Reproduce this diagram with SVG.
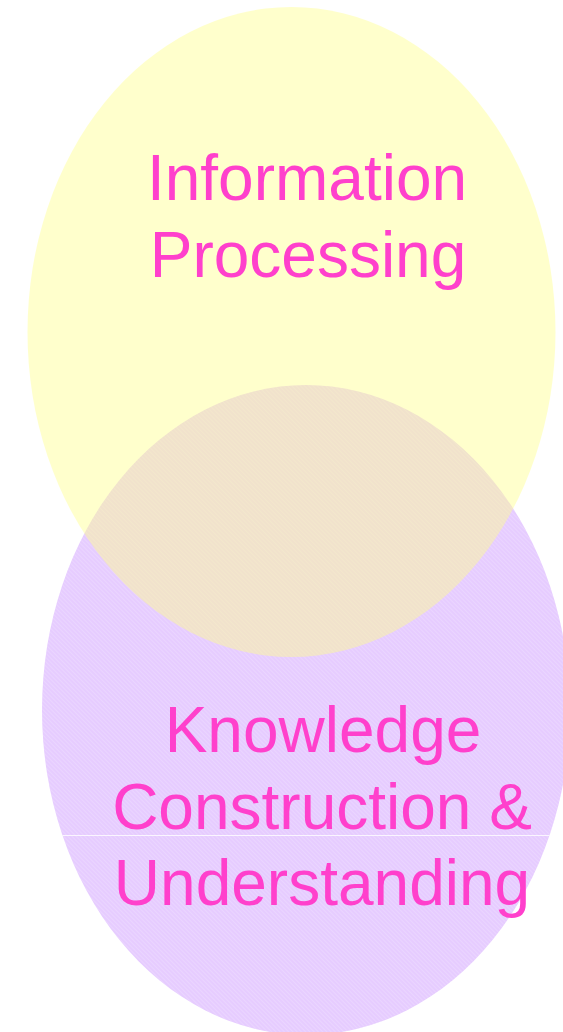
<svg xmlns="http://www.w3.org/2000/svg" width="563" height="1032" viewBox="0 0 563 1032">
  <defs>
    <!-- fine diagonal grain on the lower circle -->
    <pattern id="grain" width="3" height="3" patternUnits="userSpaceOnUse" patternTransform="rotate(45)">
      <rect width="3" height="1" fill="#ffffff" opacity="0.18"/>
    </pattern>
    <clipPath id="lowerClip">
      <ellipse cx="306" cy="710" rx="264" ry="325"/>
    </clipPath>
  </defs>
  <style>
    .label { font-family: "Liberation Sans", Arial, sans-serif; font-size: 64px; fill: #FF40CC; text-anchor: middle; }
  </style>
  <rect width="563" height="1032" fill="#ffffff"/>

  <g id="knowledge-construction">
    <ellipse cx="306" cy="710" rx="264" ry="325" fill="#E6CCFF"/>
    <ellipse cx="306" cy="710" rx="264" ry="325" fill="url(#grain)"/>
    <line x1="0" y1="835.5" x2="563" y2="835.5" stroke="#ffffff" stroke-width="1" opacity="0.8" clip-path="url(#lowerClip)"/>
  </g>

  <g id="information-processing">
    <ellipse cx="291.5" cy="332" rx="264" ry="325" fill="#FFFF88" fill-opacity="0.43"/>
  </g>

  <g id="labels">
    <text class="label" x="307" y="200">Information</text>
    <text class="label" x="308" y="276.5">Processing</text>
    <text class="label" x="323" y="752">Knowledge</text>
    <text class="label" x="322" y="828.5">Construction &amp;</text>
    <text class="label" x="322" y="905">Understanding</text>
  </g>
</svg>
